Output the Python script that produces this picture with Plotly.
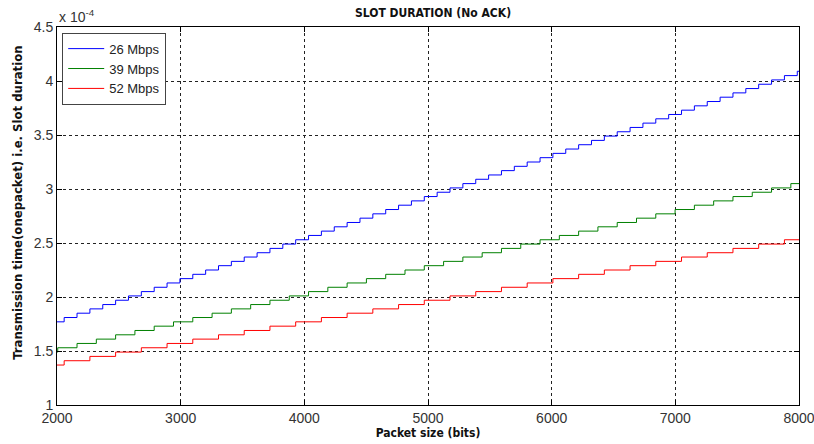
import plotly.graph_objects as go

# Packet sizes (bits) at which each slot duration steps up, and the
# slot-duration levels (microseconds) held between those steps.
x_start, x_end = 2000, 8000

breaks_26 = [2058, 2162, 2266, 2370, 2474, 2578, 2682, 2786, 2890, 2994,
             3098, 3202, 3306, 3410, 3514, 3618, 3722, 3826, 3930, 4034,
             4138, 4242, 4346, 4450, 4554, 4658, 4762, 4866, 4970, 5074,
             5178, 5282, 5386, 5490, 5594, 5698, 5802, 5906, 6010, 6114,
             6218, 6322, 6426, 6530, 6634, 6738, 6842, 6946, 7050, 7154,
             7258, 7362, 7466, 7570, 7674, 7778, 7882, 7986]
levels_26 = [177, 181, 185, 189, 193, 197, 201, 205, 209, 213,
             217, 221, 225, 229, 233, 237, 241, 245, 249, 253,
             257, 261, 265, 269, 273, 277, 281, 285, 289, 293,
             297, 301, 305, 309, 313, 317, 321, 325, 329, 333,
             337, 341, 345, 349, 353, 357, 361, 365, 369, 373,
             377, 381, 385, 389, 393, 397, 401, 405, 409]

breaks_39 = [2006, 2162, 2318, 2474, 2630, 2786, 2942, 3098, 3254, 3410,
             3566, 3722, 3878, 4034, 4190, 4346, 4502, 4658, 4814, 4970,
             5126, 5282, 5438, 5594, 5750, 5906, 6062, 6218, 6374, 6530,
             6686, 6842, 6998, 7154, 7310, 7466, 7622, 7778, 7934]
levels_39 = [149, 153, 157, 161, 165, 169, 173, 177, 181, 185,
             189, 193, 197, 201, 205, 209, 213, 217, 221, 225,
             229, 233, 237, 241, 245, 249, 253, 257, 261, 265,
             269, 273, 277, 281, 285, 289, 293, 297, 301, 305]

breaks_52 = [2058, 2266, 2474, 2682, 2890, 3098, 3306, 3514, 3722, 3930,
             4138, 4346, 4554, 4762, 4970, 5178, 5386, 5594, 5802, 6010,
             6218, 6426, 6634, 6842, 7050, 7258, 7466, 7674, 7882]
levels_52 = [137, 141, 145, 149, 153, 157, 161, 165, 169, 173,
             177, 181, 185, 189, 193, 197, 201, 205, 209, 213,
             217, 221, 225, 229, 233, 237, 241, 245, 249, 253]

series_names = ["26 Mbps", "39 Mbps", "52 Mbps"]
series_colors = ["#0000ff", "#008000", "#ff0000"]
y_ticks = [1, 1.5, 2, 2.5, 3, 3.5, 4, 4.5]
x_ticks = [2000, 3000, 4000, 5000, 6000, 7000, 8000]

fig = go.Figure()

for name, color, br, lv in zip(series_names, series_colors,
                               [breaks_26, breaks_39, breaks_52],
                               [levels_26, levels_39, levels_52]):
    xs = [x_start] + br + [x_end]
    # microseconds -> units of 1e-4 s (axis multiplier)
    ys = [v / 100 for v in lv] + [lv[-1] / 100]
    fig.add_trace(go.Scatter(x=xs, y=ys, mode="lines", name=name,
                             line=dict(color=color, width=1, shape="hv")))

axis_common = dict(
    showline=True, linecolor="black", linewidth=1, mirror="ticks",
    ticks="inside", ticklen=5, tickcolor="black",
    showgrid=True, gridcolor="#222222", gridwidth=1, griddash="3px,3px",
    zeroline=False, ticklabeloverflow="allow", automargin=False,
    tickfont=dict(family="Liberation Sans, Arial, sans-serif", size=14, color="#333333"),
)

label_font = dict(family="DejaVu Sans Condensed", size=12, color="#111111")

fig.update_xaxes(range=[x_start, x_end], tickvals=x_ticks,
                 ticktext=[str(t) for t in x_ticks],
                 title=dict(text="<b>Packet size (bits)</b>", standoff=2, font=label_font),
                 **axis_common)
fig.update_yaxes(range=[1, 4.5], tickvals=y_ticks,
                 ticktext=[f"{t:g}" for t in y_ticks],
                 **axis_common)

# y-axis title placed as a rotated annotation
fig.add_annotation(text="<b>Transmission time(onepacket) i.e. Slot duration</b>",
                   xref="paper", yref="paper", x=0, y=0.535, xanchor="center", yanchor="middle",
                   xshift=-39, textangle=-90, showarrow=False,
                   font=dict(family="DejaVu Sans Condensed", size=13, color="#111111"))
fig.add_annotation(text="x 10<sup>-4</sup>", xref="paper", yref="paper",
                   x=0, y=1, xanchor="left", yanchor="bottom", showarrow=False,
                   font=dict(family="Liberation Sans, Arial, sans-serif", size=14, color="#333333"))
fig.add_annotation(text="<b>SLOT DURATION (No ACK)</b>", xref="paper", yref="paper",
                   x=0.507, y=1, xanchor="center", yanchor="bottom", yshift=5, showarrow=False,
                   font=dict(family="DejaVu Sans Condensed", size=12, color="#111111"))

fig.update_layout(
    width=814, height=444,
    margin=dict(l=57, r=15, t=27, b=39),
    paper_bgcolor="white", plot_bgcolor="white",
    showlegend=True,
    legend=dict(x=0.007, y=0.985, xanchor="left", yanchor="top",
                bgcolor="white", bordercolor="#444444", borderwidth=1,
                font=dict(family="Liberation Sans, Arial, sans-serif", size=13, color="#222222"),
                tracegroupgap=0, itemwidth=36),
)

fig.write_html("out.html")
